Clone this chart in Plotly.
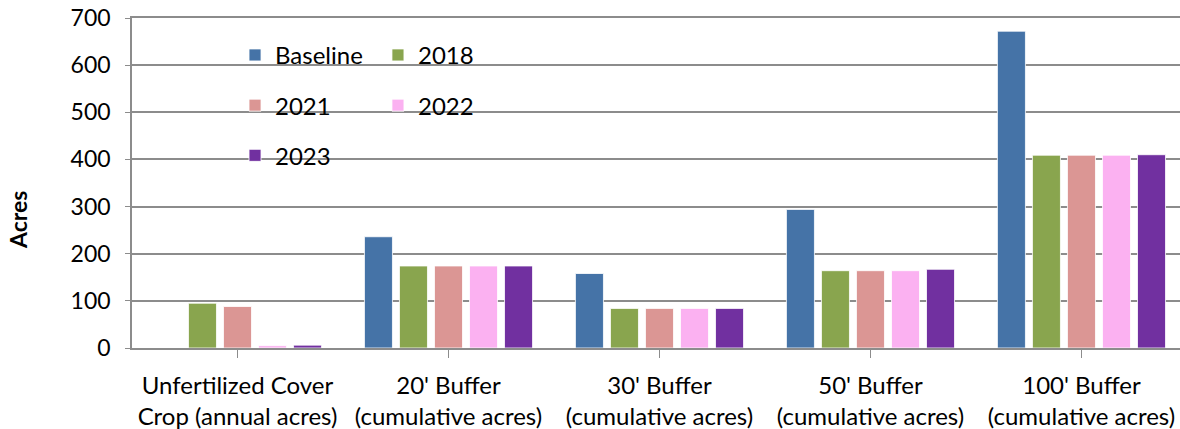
import plotly.graph_objects as go

# categories and values
categories = [
    "Unfertilized Cover<br>Crop (annual acres)",
    "20' Buffer<br>(cumulative acres)",
    "30' Buffer<br>(cumulative acres)",
    "50' Buffer<br>(cumulative acres)",
    "100' Buffer<br>(cumulative acres)",
]
baseline = [0, 236, 158, 294, 672]
y2018 = [95, 174, 84, 164, 409]
y2021 = [88, 174, 84, 164, 409]
y2022 = [5, 174, 84, 164, 409]
y2023 = [6, 174, 84, 167, 410]

series = [
    ("Baseline", baseline, "#4573A7", "legend"),
    ("2018", y2018, "#89A54E", "legend2"),
    ("2021", y2021, "#DB9694", "legend"),
    ("2022", y2022, "#FBB1F1", "legend2"),
    ("2023", y2023, "#7130A0", "legend"),
]

FONT = "Lato, 'Open Sans', sans-serif"
x_idx = list(range(len(categories)))

fig = go.Figure()
for name, vals, color, leg in series:
    fig.add_trace(go.Bar(
        x=x_idx, y=vals, name=name, legend=leg, legendgroup=name,
        marker=dict(color=color, line=dict(color="white", width=0.8)),
    ))

grid = "#8c8c8c"
fig.update_layout(
    width=1180, height=429,
    margin=dict(l=132, r=0, t=18, b=81),
    paper_bgcolor="white", plot_bgcolor="white",
    font=dict(family=FONT, size=23, color="black"),
    barmode="group", bargap=0.17, bargroupgap=0.2,
    xaxis=dict(
        tickmode="array", tickvals=x_idx, ticktext=categories,
        range=[-0.5, 4.467], showline=True, linecolor=grid, linewidth=1.5,
        mirror=True,  # top line stands in for the 700 gridline
        ticks="outside", tickson="boundaries", ticklen=8, tickcolor=grid,
        showgrid=False, tickfont=dict(size=24), ticklabelstandoff=7,
    ),
    yaxis=dict(
        range=[0, 700], dtick=100,
        showgrid=True, gridcolor=grid, gridwidth=1.5,
        showline=True, linecolor=grid, linewidth=1.5, ticks="outside",
        ticklen=5, tickcolor=grid, tickfont=dict(size=23), zeroline=False,
        ticklabelstandoff=10,
    ),
    legend=dict(
        x=0.0983, y=0.955, xanchor="left", yanchor="top", orientation="v",
        bgcolor="rgba(0,0,0,0)", font=dict(size=24), tracegroupgap=16,
    ),
    legend2=dict(
        x=0.2347, y=0.955, xanchor="left", yanchor="top", orientation="v",
        bgcolor="rgba(0,0,0,0)", font=dict(size=24), tracegroupgap=16,
    ),
    shapes=[dict(
        type="rect", xref="paper", yref="paper", x0=0.0964, x1=0.370,
        y0=0.524, y1=0.948, fillcolor="white", line=dict(width=0), layer="between",
    )],
    annotations=[dict(
        text="<b>Acres</b>", xref="paper", yref="paper", x=-0.1088, y=0.388,
        xanchor="center", yanchor="middle",
        textangle=-90, showarrow=False, font=dict(size=23),
    )],
)

# drop the default body margin so the figure sits at the page corner
fig.write_html("out.html", config={"displayModeBar": False},
               post_script="document.body.style.margin='0';")
